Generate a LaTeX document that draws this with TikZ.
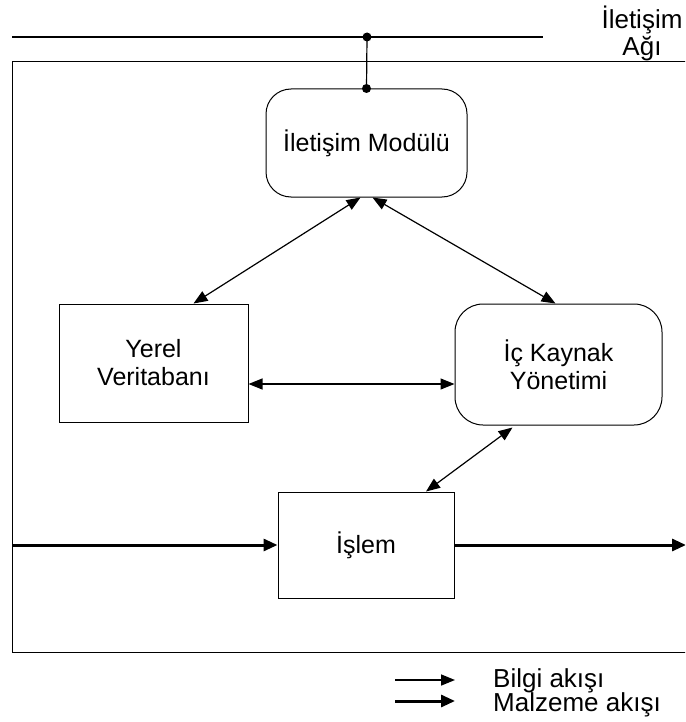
\documentclass[tikz,border=0pt]{standalone}
\usepackage{fontspec}
\setmainfont{Liberation Sans}
\usetikzlibrary{calc,arrows.meta}
\begin{document}
\begin{tikzpicture}[x=1pt,y=-1pt,
  every node/.style={font=\fontsize{25}{28}\selectfont, align=center, inner sep=0pt},
  legtext/.style={anchor=base west, font=\fontsize{26}{28}\selectfont},
  blk/.style={draw, line width=1pt},
  rblk/.style={draw, line width=1pt, rounded corners=25pt},
  info/.style={line width=1.2pt, {Triangle[length=14pt,width=11pt]}-{Triangle[length=14pt,width=11pt]}},
  mat/.style={line width=3pt, -{Triangle[length=14pt,width=12pt]}},
  dot/.style={circle, fill=black, minimum size=9pt, inner sep=0pt}]
\useasboundingbox (0,0) rectangle (685,722);
\clip (0,0) rectangle (685,722);
% frame
\draw[line width=1pt] (700,62) -- (12,62) -- (12,652) -- (700,652);
% network
\coordinate (n1) at (12,37);
\coordinate (n2) at (543,37);
\draw[line width=2.4pt] (n1) -- (n2);
\node[font=\fontsize{26}{27}\selectfont] (net) at (642,33) {İletişim\\Ağı};
% nodes
\node[rblk, minimum width=201pt, minimum height=108pt] (mod) at (366.5,143) {İletişim Modülü};
\node[blk, minimum width=189pt, minimum height=118pt] (yerel) at (153.5,363) {Yerel\\Veritabanı};
\node[rblk, rounded corners=28pt, minimum width=207pt, minimum height=121pt] (ic) at (558.5,364.5) {İç Kaynak\\Yönetimi};
\node[blk, minimum width=176pt, minimum height=106pt] (islem) at (366,545) {İşlem};
% junction
\node[dot] (j1) at (367,37) {};
\node[dot] (j2) at (mod.north) {};
\draw[line width=1.2pt] (j1.center) -- (j2.center);
% info arrows
\draw[info] ($(mod.south)+(-6,0)$) -- ($(yerel.north)+(40,0)$);
\draw[info] ($(mod.south)+(6,0)$) -- ($(ic.north)+(-3,0)$);
\draw[info] ($(yerel.east)+(0,21)$) -- ($(ic.west)+(0,19.5)$);
\draw[info] ($(ic.south)+(-46,2)$) -- ($(islem.north)+(60,0)$);
% material flow
\coordinate (min) at (12,545);
\coordinate (mout) at (686,545);
\draw[mat] (min) -- (islem.west);
\draw[mat] (islem.east) -- (mout);
% legend
\coordinate (l1a) at (395,680);
\coordinate (l1b) at (455,680);
\coordinate (l2a) at (395,701);
\coordinate (l2b) at (455,701);
\draw[line width=1.6pt, -{Triangle[length=14pt,width=11pt]}] (l1a) -- (l1b);
\draw[line width=3pt, -{Triangle[length=14pt,width=12pt]}] (l2a) -- (l2b);
\node[legtext] (t1) at (493,687) {Bilgi akışı};
\node[legtext] (t2) at (493,711) {Malzeme akışı};
\end{tikzpicture}
\end{document}
